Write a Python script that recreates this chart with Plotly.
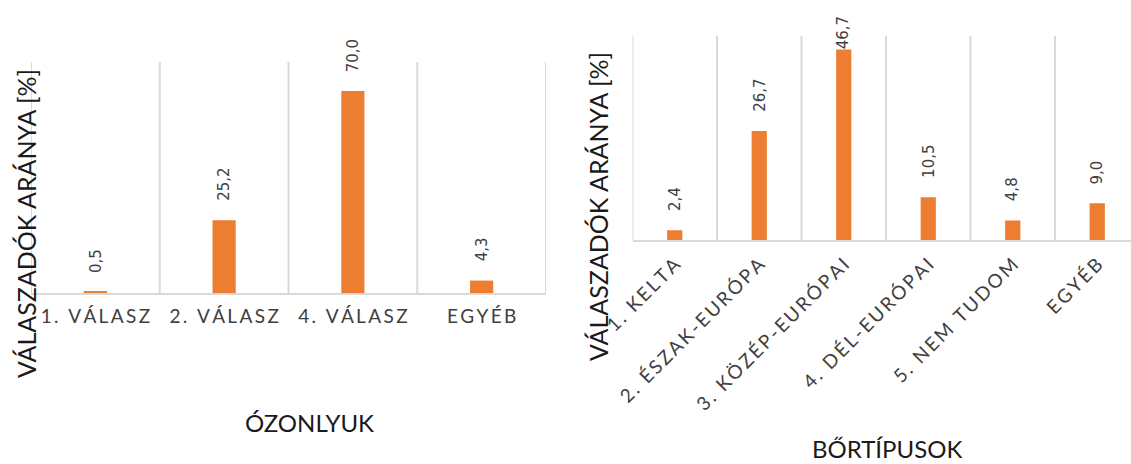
import plotly.graph_objects as go

# Survey results: share of respondents per answer
ozon_categories = ["1. VÁLASZ", "2. VÁLASZ", "4. VÁLASZ", "EGYÉB"]
ozon_values = [0.5, 25.2, 70.0, 4.3]

skin_categories = ["1. KELTA", "2. ÉSZAK-EURÓPA", "3. KÖZÉP-EURÓPAI",
                   "4. DÉL-EURÓPAI", "5. NEM TUDOM", "EGYÉB"]
skin_values = [2.4, 26.7, 46.7, 10.5, 4.8, 9.0]

y_title = "VÁLASZADÓK ARÁNYA [%]"
x_title_left = "ÓZONLYUK"
x_title_right = "BŐRTÍPUSOK"

W, H = 1131, 464
BAR = "#ED7D31"
GRID = "#D9D9D9"
TXT = "#404040"
FONT = "Lato, 'Open Sans', sans-serif"
LABEL_FONT = "'DejaVu Sans', sans-serif"


def spaced(s, sep="\u2009"):
    """Widen letter spacing of a tick label."""
    return sep.join(list(s))


def fmt(v):
    return f"{v:.1f}".replace(".", ",")


fig = go.Figure()

fig.add_trace(go.Bar(x=list(range(len(ozon_values))), y=ozon_values, width=0.18,
                     marker=dict(color=BAR, line=dict(width=0)),
                     xaxis="x", yaxis="y", hoverinfo="skip"))
fig.add_trace(go.Bar(x=list(range(len(skin_values))), y=skin_values, width=0.18,
                     marker=dict(color=BAR, line=dict(width=0)),
                     xaxis="x2", yaxis="y2", hoverinfo="skip"))

# plot areas (pixel boxes converted to paper fractions)
left_box = dict(x0=31, x1=546, top=62, bottom=293, ymax=80)
right_box = dict(x0=632.5, x1=W, top=36, bottom=240, ymax=50)
right_cat_w = 84.5

common_x = dict(type="linear", showgrid=False, zeroline=False, showline=True,
                linecolor=GRID, linewidth=2, ticks="", automargin=False,
                tickfont=dict(family=FONT, size=19, color=TXT),
                tickmode="array")

fig.update_layout(
    width=W, height=H,
    margin=dict(l=0, r=0, t=0, b=0, autoexpand=False),
    paper_bgcolor="white", plot_bgcolor="white",
    showlegend=False,
    xaxis=dict(common_x,
               domain=[left_box["x0"] / W, left_box["x1"] / W],
               range=[-0.5, len(ozon_values) - 0.5],
               tickvals=list(range(len(ozon_categories))),
               ticktext=[spaced(c) for c in ozon_categories],
               tickangle=0, anchor="y", ticklabelstandoff=5),
    yaxis=dict(domain=[1 - left_box["bottom"] / H, 1 - left_box["top"] / H],
               range=[0, left_box["ymax"]], visible=False, anchor="x",
               automargin=False),
    xaxis2=dict(common_x,
                domain=[right_box["x0"] / W, 1.0],
                range=[-0.5, -0.5 + (right_box["x1"] - right_box["x0"]) / right_cat_w],
                tickvals=list(range(len(skin_categories))),
                ticktext=[spaced(c) for c in skin_categories],
                tickangle=-45, anchor="y2", ticklabelstandoff=4),
    yaxis2=dict(domain=[1 - right_box["bottom"] / H, 1 - right_box["top"] / H],
                range=[0, right_box["ymax"]], visible=False, anchor="x2",
                automargin=False),
)

# vertical separators between categories
shapes = []
for n, xa, ya in [(len(ozon_values), "x", "y"), (len(skin_values), "x2", "y2")]:
    for k in range(n + 1):
        shapes.append(dict(type="line", xref=xa, yref=f"{ya} domain",
                           x0=k - 0.5, x1=k - 0.5, y0=0, y1=1,
                           line=dict(color=GRID, width=2), layer="below"))
fig.update_layout(shapes=shapes)

# value labels above bars
annotations = []
for vals, box, xa, ya in [(ozon_values, left_box, "x", "y"),
                          (skin_values, right_box, "x2", "y2")]:
    scale = (box["bottom"] - box["top"]) / box["ymax"]
    for i, v in enumerate(vals):
        bar_top = box["bottom"] - v * scale
        label_len = 38
        shift = min(17, bar_top - 13 - label_len)
        annotations.append(dict(x=i, y=v, xref=xa, yref=ya, text=fmt(v),
                                showarrow=False, textangle=-90,
                                xanchor="center", yanchor="bottom", yshift=shift,
                                font=dict(family=LABEL_FONT, size=15, color=TXT)))

# axis titles
title_font = dict(family=FONT, color="#1a1a1a")
annotations += [
    dict(x=26 / W, y=1 - 224 / H, xref="paper", yref="paper", text=y_title,
         textangle=-90, showarrow=False, xanchor="center", yanchor="middle",
         font=dict(title_font, size=25)),
    dict(x=598 / W, y=1 - 207 / H, xref="paper", yref="paper", text=y_title,
         textangle=-90, showarrow=False, xanchor="center", yanchor="middle",
         font=dict(title_font, size=25)),
    dict(x=309 / W, y=1 - 422 / H, xref="paper", yref="paper", text=x_title_left,
         showarrow=False, xanchor="center", yanchor="middle",
         font=dict(title_font, size=24)),
    dict(x=887 / W, y=1 - 448 / H, xref="paper", yref="paper", text=x_title_right,
         showarrow=False, xanchor="center", yanchor="middle",
         font=dict(title_font, size=24)),
]
fig.update_layout(annotations=annotations)

fig.write_html("out.html")
